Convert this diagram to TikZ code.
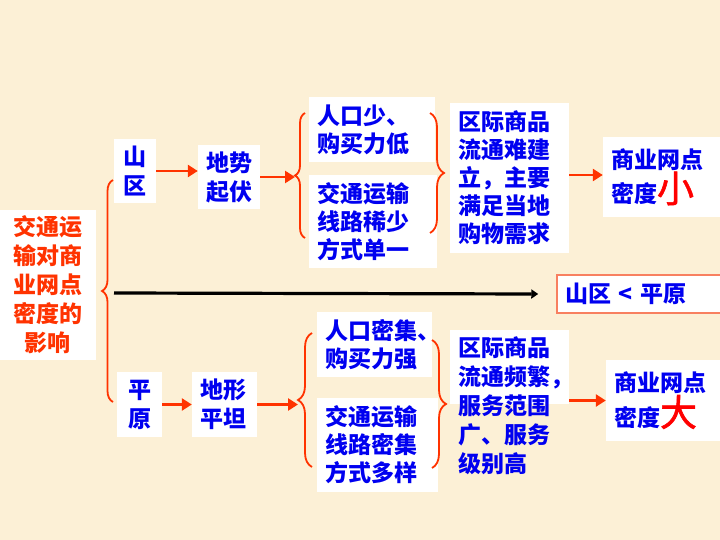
\documentclass[tikz,border=0pt]{standalone}
\usepackage{fontspec}
\newfontfamily\cjk{Noto Sans CJK SC}
\newfontfamily\cjkbig{Noto Sans CJK SC}[FakeBold=1.6]
\usetikzlibrary{arrows.meta,decorations.pathreplacing}

\definecolor{paper}{RGB}{252,240,214}
\definecolor{txtblue}{RGB}{0,0,240}
\definecolor{txtred}{RGB}{255,51,0}
\definecolor{arrred}{RGB}{255,51,0}
\definecolor{bigred}{RGB}{255,0,0}
\definecolor{cmpline}{RGB}{248,128,96}

\newcommand\bigch[1]{{\cjkbig\mdseries\fontsize{37}{28}\selectfont\color{bigred}#1}}

\tikzset{
  wbox/.style={fill=white, inner xsep=8pt, inner ysep=0pt, align=left, text=txtblue,
    font=\cjk\bfseries\fontsize{23}{28}\selectfont},
  tall/.style={font=\cjk\bfseries\fontsize{23}{29}\selectfont},
  arr/.style={draw=arrred, line width=2.5pt, -{Triangle[length=10pt,width=12pt]}},
  blk/.style={draw=black, line width=3.2pt, -{Triangle[length=7pt,width=9pt]}},
  brc/.style={draw=arrred, line width=1.8pt, decorate, decoration={brace,amplitude=#1}},
  brc/.default=11pt
}

\begin{document}
\begin{tikzpicture}[x=1pt,y=-1pt]
    % Background
    \fill[paper] (0,0) rectangle (720,540);
    \useasboundingbox (0,0) rectangle (720,540);

    % Title
    \node[wbox, tall, text=txtred, align=center, text width=80pt, minimum height=150pt] (title) at (48,285) {交通运\\输对商\\业网点\\密度的\\影响};

    % Mountain branch
    \node[wbox, tall, align=center, text width=26pt, minimum height=64pt] (shanqu) at (135,171) {山\\区};
    \node[wbox, tall, text width=46pt, minimum height=64pt] (dishi) at (229,177) {地势\\起伏};
    \node[wbox, text width=110pt, minimum height=65pt] (renkouA) at (372,129.5) {人口少、\\购买力低};
    \node[wbox, text width=112pt, minimum height=93pt] (jiaotongA) at (373,221.5) {交通运输\\线路稀少\\方式单一};
    \node[wbox, text width=103pt, minimum height=150pt] (qujiA) at (509.5,178) {区际商品\\流通难建\\立，主要\\满足当地\\购物需求};
    \node[wbox, text width=101pt, minimum height=80pt] (miduA) at (661.5,177) {商业网点\\密度\bigch{小}};

    % Comparison
    \node[wbox, draw=cmpline, line width=1.5pt, text width=149pt, minimum height=38pt] (cmp) at (639.5,294) {山区 < 平原};

    % Plain branch
    \node[wbox, tall, align=center, text width=29pt, minimum height=65pt] (pingyuan) at (139.5,404.5) {平\\原};
    \node[wbox, tall, text width=49pt, minimum height=65pt] (dixing) at (224.5,404.5) {地形\\平坦};
    \node[wbox, text width=99pt, minimum height=65pt] (renkouB) at (374.5,344.5) {人口密集、\\购买力强};
    \node[wbox, text width=105pt, minimum height=94pt] (jiaotongB) at (377.5,445) {交通运输\\线路密集\\方式多样};
    \node[wbox, tall, anchor=north, inner ysep=6pt, text depth=42pt, text width=103pt] (qujiB) at (509.5,330) {区际商品\\流通频繁，\\服务范围\\广、服务\\级别高};
    \node[wbox, text width=98pt, minimum height=81pt] (miduB) at (663,400.5) {商业网点\\密度\bigch{大}};

    % Braces
    \draw[brc] (113,402) -- (113,180);
    \coordinate (mid) at (114,293);
    \draw[brc=10pt] (305,238) -- (305,113);
    \coordinate (tipA) at (295,175.5);
    \draw[brc=14pt] (430,113) -- (430,233);
    \draw[brc=14pt] (312,467) -- (312,333);
    \coordinate (tipB) at (298,400);
    \draw[brc=14pt] (432,340) -- (432,468);

    % Arrows
    \draw[arr] (shanqu.east) -- (shanqu.east -| dishi.west);
    \draw[arr] (dishi.east) -- (dishi.east -| tipA);
    \draw[arr] ([yshift=3pt]qujiA.east) -- ([yshift=3pt]qujiA.east -| miduA.west);
    \draw[arr] (pingyuan.east) -- (pingyuan.east -| dixing.west);
    \draw[arr] (dixing.east) -- (dixing.east -| tipB);
    \draw[arr] (qujiB.east |- miduB.west) -- (miduB.west);
    \draw[blk] (mid) -- ([xshift=-18pt]cmp.west);

\end{tikzpicture}
\end{document}
